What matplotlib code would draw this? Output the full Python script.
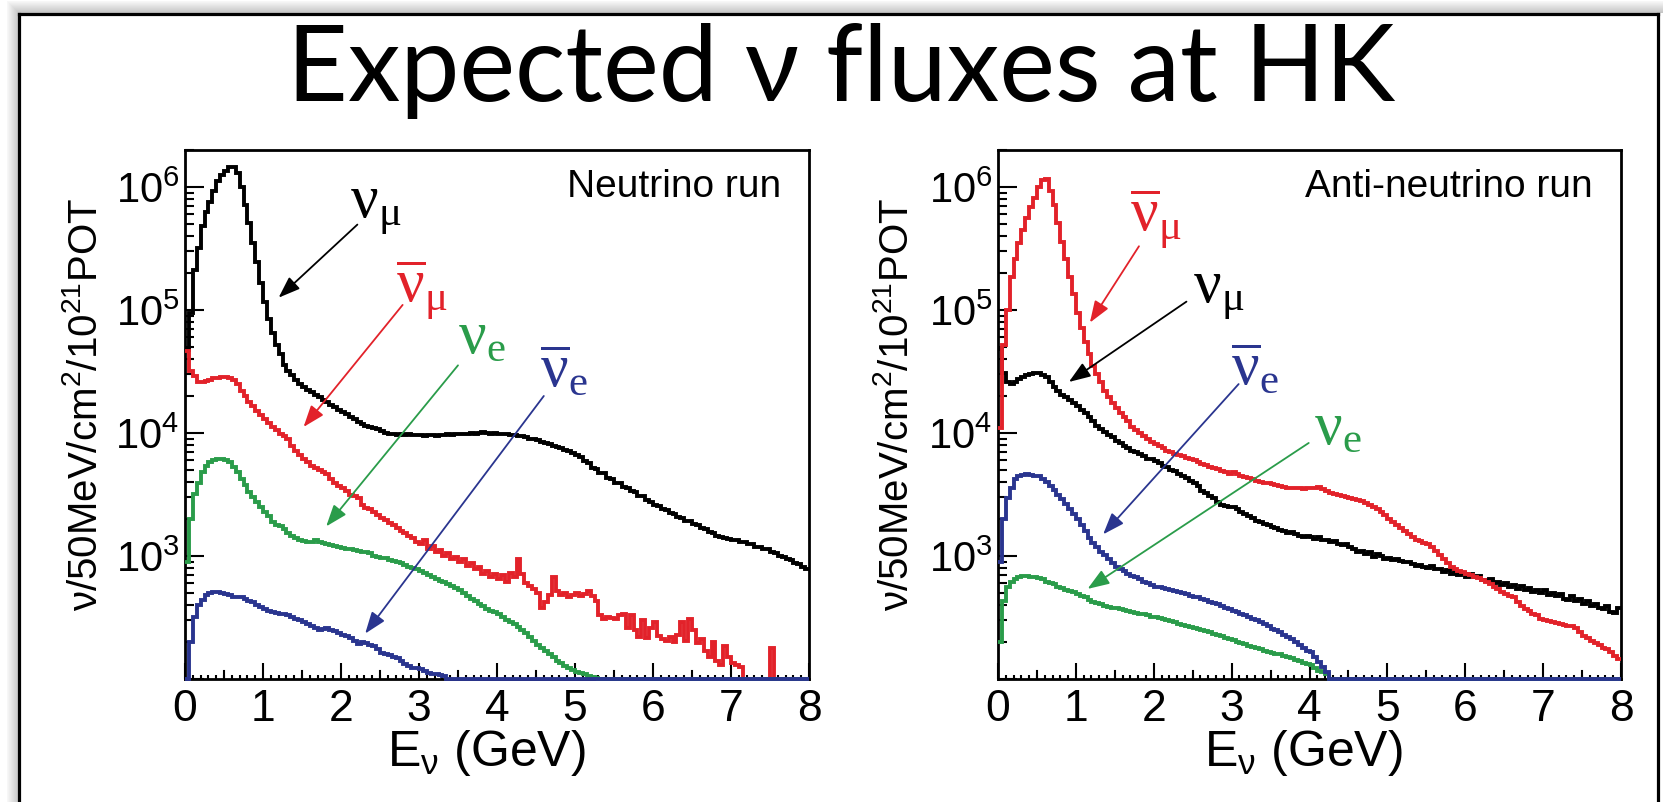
import numpy as np
import matplotlib
matplotlib.use("Agg")
import matplotlib.pyplot as plt
from matplotlib.ticker import (FixedLocator, FixedFormatter, LogLocator,
                               MultipleLocator, NullFormatter)
from matplotlib.lines import Line2D
from matplotlib.patches import Rectangle

plt.rcParams['font.family'] = ['Liberation Sans', 'DejaVu Sans']
plt.rcParams['mathtext.fontset'] = 'custom'
plt.rcParams['mathtext.rm'] = 'Liberation Serif'
plt.rcParams['mathtext.it'] = 'Liberation Serif:italic'
plt.rcParams['mathtext.bf'] = 'Liberation Serif:bold'

# ---------------------------------------------------------------------------
# Flux per 50 MeV bin, 0-8 GeV (160 bins), per cm^2 per 1e21 POT
# ---------------------------------------------------------------------------
E_MIN, E_MAX, BIN_W = 0.0, 8.0, 0.05

# Neutrino (FHC) run
nu_run_numu = [
    4.7e4, 9.5e4, 2.1e5, 3.2e5, 4.8e5, 6.3e5, 7.6e5, 9.3e5, 1.12e6, 1.26e6,
    1.35e6, 1.45e6, 1.45e6, 1.3e6, 1.0e6, 7.1e5, 5.1e5, 3.5e5, 2.45e5, 1.66e5,
    1.17e5, 8.5e4, 6.5e4, 5.2e4, 4.4e4, 3.6e4, 3.2e4, 2.95e4, 2.7e4, 2.5e4,
    2.35e4, 2.25e4, 2.15e4, 2.05e4, 1.95e4, 1.85e4, 1.78e4, 1.7e4, 1.62e4, 1.55e4,
    1.48e4, 1.42e4, 1.35e4, 1.29e4, 1.23e4, 1.18e4, 1.15e4, 1.12e4, 1.1e4, 1.07e4,
    1.03e4, 1.0e4, 9.8e3, 9.8e3, 9.6e3, 9.8e3, 9.7e3, 9.9e3, 9.6e3, 9.7e3,
    9.6e3, 9.5e3, 9.7e3, 9.6e3, 9.5e3, 9.7e3, 9.6e3, 9.8e3, 9.7e3, 9.8e3,
    9.9e3, 9.8e3, 9.9e3, 1.0e4, 9.9e3, 1.0e4, 1.01e4, 1.0e4, 9.9e3, 1.0e4,
    9.9e3, 9.8e3, 9.9e3, 9.7e3, 9.6e3, 9.5e3, 9.4e3, 9.2e3, 9.0e3, 8.9e3,
    8.7e3, 8.5e3, 8.3e3, 8.1e3, 7.9e3, 7.7e3, 7.5e3, 7.3e3, 7.1e3, 6.9e3,
    6.6e3, 6.4e3, 5.9e3, 5.7e3, 5.2e3, 5.1e3, 4.7e3, 4.7e3, 4.3e3, 4.25e3,
    3.95e3, 3.9e3, 3.65e3, 3.55e3, 3.35e3, 3.3e3, 3.1e3, 3.05e3, 2.85e3, 2.75e3,
    2.6e3, 2.55e3, 2.4e3, 2.38e3, 2.22e3, 2.2e3, 2.08e3, 2.05e3, 1.94e3, 1.92e3,
    1.81e3, 1.78e3, 1.68e3, 1.67e3, 1.58e3, 1.54e3, 1.46e3, 1.44e3, 1.39e3, 1.38e3,
    1.35e3, 1.34e3, 1.31e3, 1.31e3, 1.26e3, 1.25e3, 1.19e3, 1.19e3, 1.15e3, 1.13e3,
    1.07e3, 1.06e3, 1.0e3, 990, 940, 930, 870, 860, 820, 790,
]
nu_run_numubar = [
    4.6e4, 3.2e4, 2.9e4, 2.6e4, 2.6e4, 2.65e4, 2.7e4, 2.8e4, 2.8e4, 2.85e4,
    2.85e4, 2.8e4, 2.7e4, 2.5e4, 2.2e4, 2.0e4, 1.8e4, 1.65e4, 1.5e4, 1.4e4,
    1.3e4, 1.2e4, 1.12e4, 1.05e4, 9.8e3, 9.4e3, 8.9e3, 7.8e3, 7.1e3, 6.6e3,
    6.2e3, 5.8e3, 5.4e3, 5.2e3, 5.0e3, 4.8e3, 4.6e3, 4.2e3, 3.9e3, 3.7e3,
    3.55e3, 3.35e3, 3.15e3, 3.1e3, 2.95e3, 2.6e3, 2.45e3, 2.4e3, 2.3e3, 2.15e3,
    2.05e3, 1.95e3, 1.85e3, 1.8e3, 1.7e3, 1.6e3, 1.55e3, 1.45e3, 1.4e3, 1.3e3,
    1.25e3, 1.35e3, 1.15e3, 1.2e3, 1.08e3, 1.12e3, 1.0e3, 1.05e3, 950, 990,
    900, 940, 830, 880, 790, 820, 720, 760, 680, 720,
    650, 700, 620, 730, 670, 950, 720, 600, 570, 540,
    500, 380, 420, 480, 680, 520, 480, 500, 460, 480,
    500, 470, 490, 520, 470, 430, 330, 310, 320, 315,
    310, 330, 340, 260, 330, 250, 220, 300, 215, 260,
    290, 225, 210, 205, 220, 200, 230, 290, 205, 310,
    250, 195, 210, 170, 150, 200, 140, 130, 185, 150,
    135, 130, 125, 0, 0, 0, 0, 0, 0, 0,
    180, 0, 0, 0, 0, 0, 0, 0, 0, 0,
]
nu_run_nue = [
    900, 2.0e3, 3.2e3, 3.9e3, 4.8e3, 5.4e3, 5.8e3, 6.0e3, 6.1e3, 6.1e3,
    6.0e3, 5.8e3, 5.3e3, 4.8e3, 4.2e3, 3.8e3, 3.3e3, 3.0e3, 2.75e3, 2.5e3,
    2.3e3, 2.1e3, 1.9e3, 1.8e3, 1.75e3, 1.65e3, 1.55e3, 1.45e3, 1.4e3, 1.35e3,
    1.32e3, 1.3e3, 1.3e3, 1.35e3, 1.3e3, 1.27e3, 1.25e3, 1.22e3, 1.2e3, 1.18e3,
    1.17e3, 1.15e3, 1.13e3, 1.12e3, 1.1e3, 1.08e3, 1.07e3, 1.05e3, 1.0e3, 990,
    970, 960, 930, 910, 890, 870, 840, 820, 800, 780,
    760, 730, 700, 680, 650, 630, 610, 590, 570, 550,
    530, 500, 470, 450, 430, 410, 390, 370, 360, 350,
    340, 320, 300, 290, 280, 265, 250, 235, 220, 205,
    190, 180, 170, 160, 150, 140, 135, 128, 122, 118,
    115, 112, 110, 106, 104, 102, 0, 0, 0, 0,
] + [0] * 50
nu_run_nuebar = [
    0, 200, 320, 400, 440, 480, 500, 510, 510, 500,
    495, 480, 460, 465, 460, 450, 430, 420, 400, 385,
    370, 360, 350, 345, 340, 335, 330, 320, 310, 300,
    290, 280, 270, 260, 250, 255, 260, 250, 245, 238,
    230, 222, 215, 205, 192, 200, 198, 190, 185, 175,
    162, 160, 158, 152, 147, 140, 133, 128, 124, 122,
    120, 116, 112, 110, 109, 107, 105, 0, 0, 0,
] + [0] * 90

# Anti-neutrino (RHC) run
anu_run_numubar = [
    1.1e4, 5.2e4, 1.0e5, 1.85e5, 2.6e5, 3.5e5, 4.5e5, 5.6e5, 6.9e5, 8.1e5,
    1.0e6, 1.15e6, 1.17e6, 9.3e5, 7.1e5, 5.1e5, 3.6e5, 2.6e5, 1.85e5, 1.35e5,
    9.5e4, 7.1e4, 5.5e4, 4.4e4, 3.5e4, 3.0e4, 2.6e4, 2.2e4, 1.95e4, 1.75e4,
    1.6e4, 1.45e4, 1.35e4, 1.25e4, 1.12e4, 1.05e4, 1.0e4, 9.5e3, 8.9e3, 8.5e3,
    8.1e3, 7.8e3, 7.5e3, 7.2e3, 7.0e3, 6.8e3, 6.6e3, 6.5e3, 6.3e3, 6.1e3,
    6.0e3, 5.8e3, 5.6e3, 5.5e3, 5.3e3, 5.2e3, 5.1e3, 4.9e3, 4.8e3, 4.6e3,
    4.8e3, 4.6e3, 4.5e3, 4.4e3, 4.3e3, 4.2e3, 4.1e3, 4.0e3, 3.95e3, 3.9e3,
    3.85e3, 3.8e3, 3.7e3, 3.65e3, 3.6e3, 3.6e3, 3.55e3, 3.55e3, 3.5e3, 3.55e3,
    3.6e3, 3.6e3, 3.65e3, 3.5e3, 3.35e3, 3.25e3, 3.2e3, 3.15e3, 3.05e3, 3.0e3,
    2.95e3, 2.9e3, 2.85e3, 2.8e3, 2.7e3, 2.6e3, 2.5e3, 2.4e3, 2.3e3, 2.15e3,
    2.0e3, 1.9e3, 1.8e3, 1.7e3, 1.6e3, 1.5e3, 1.42e3, 1.36e3, 1.32e3, 1.28e3,
    1.25e3, 1.18e3, 1.1e3, 1.02e3, 950, 870, 810, 780, 760, 740,
    720, 700, 680, 660, 640, 610, 590, 560, 540, 510,
    490, 470, 460, 420, 390, 370, 360, 340, 330, 310,
    300, 295, 290, 285, 280, 275, 270, 270, 260, 240,
    225, 215, 205, 195, 190, 180, 175, 165, 155, 145,
]
anu_run_numu = [
    4.8e4, 3.1e4, 2.6e4, 2.5e4, 2.6e4, 2.75e4, 2.85e4, 2.95e4, 3.0e4, 3.05e4,
    3.05e4, 2.95e4, 2.85e4, 2.6e4, 2.35e4, 2.2e4, 2.05e4, 1.95e4, 1.85e4, 1.75e4,
    1.65e4, 1.55e4, 1.45e4, 1.35e4, 1.25e4, 1.15e4, 1.08e4, 1.02e4, 9.7e3, 9.2e3,
    8.6e3, 8.3e3, 7.9e3, 7.5e3, 7.2e3, 7.0e3, 6.7e3, 6.5e3, 6.2e3, 6.1e3,
    5.9e3, 5.7e3, 5.4e3, 5.3e3, 5.0e3, 4.9e3, 4.6e3, 4.5e3, 4.3e3, 4.1e3,
    3.9e3, 3.7e3, 3.4e3, 3.25e3, 3.1e3, 2.95e3, 2.75e3, 2.6e3, 2.55e3, 2.5e3,
    2.5e3, 2.4e3, 2.3e3, 2.2e3, 2.1e3, 2.05e3, 1.92e3, 1.88e3, 1.82e3, 1.78e3,
    1.72e3, 1.68e3, 1.63e3, 1.6e3, 1.55e3, 1.58e3, 1.5e3, 1.46e3, 1.42e3, 1.45e3,
    1.42e3, 1.38e3, 1.42e3, 1.36e3, 1.34e3, 1.3e3, 1.33e3, 1.26e3, 1.22e3, 1.25e3,
    1.18e3, 1.13e3, 1.08e3, 1.1e3, 1.04e3, 1.07e3, 990, 1.04e3, 1.0e3, 950,
    970, 930, 950, 910, 890, 900, 860, 830, 850, 820,
    800, 830, 780, 790, 740, 770, 720, 750, 700, 730,
    680, 710, 670, 690, 640, 630, 650, 600, 620, 580,
    600, 560, 580, 540, 570, 530, 550, 510, 530, 500,
    530, 480, 500, 470, 490, 450, 440, 470, 430, 450,
    410, 430, 390, 410, 380, 370, 390, 350, 345, 375,
]
anu_run_nuebar = [
    900, 2.0e3, 2.95e3, 3.6e3, 4.2e3, 4.5e3, 4.55e3, 4.6e3, 4.55e3, 4.5e3,
    4.45e3, 4.25e3, 4.0e3, 3.7e3, 3.45e3, 3.15e3, 2.9e3, 2.65e3, 2.4e3, 2.2e3,
    2.0e3, 1.8e3, 1.6e3, 1.4e3, 1.28e3, 1.18e3, 1.08e3, 1.02e3, 950, 870,
    810, 780, 760, 720, 690, 670, 650, 620, 600, 580,
    560, 560, 545, 540, 525, 515, 505, 500, 490, 475,
    465, 460, 445, 435, 420, 415, 405, 390, 380, 370,
    360, 350, 340, 330, 320, 310, 300, 290, 280, 270,
    255, 250, 240, 230, 220, 210, 200, 190, 180, 170,
    165, 150, 138, 125, 115, 0, 0, 0, 0, 0,
] + [0] * 70
anu_run_nue = [
    200, 430, 560, 620, 650, 680, 690, 690, 680, 670,
    665, 650, 620, 605, 590, 565, 545, 530, 515, 505,
    490, 475, 460, 440, 425, 415, 405, 395, 385, 380,
    375, 370, 365, 360, 350, 345, 340, 335, 330, 322,
    318, 312, 305, 300, 297, 290, 282, 276, 270, 265,
    260, 256, 252, 246, 240, 234, 228, 222, 216, 211,
    206, 201, 197, 192, 187, 183, 178, 174, 170, 167,
    164, 161, 159, 155, 151, 147, 143, 139, 136, 132,
    129, 123, 117, 113, 110, 0, 0, 0, 0, 0,
] + [0] * 70

Y_MIN, Y_MAX = 100.0, 2.0e6

C_BLACK = '#000000'
C_RED = '#e2222a'
C_GREEN = '#2a9c4a'
C_BLUE = '#2a358f'

LBL_NUMU = r'$\mathrm{ν}_{\mathrm{μ}}$'
LBL_NUMUBAR = r'$\overline{\mathrm{ν}}_{\mathrm{μ}}$'
LBL_NUE = r'$\mathrm{ν}_{\mathrm{e}}$'
LBL_NUEBAR = r'$\overline{\mathrm{ν}}_{\mathrm{e}}$'

edges = np.linspace(E_MIN, E_MAX, int(round((E_MAX - E_MIN) / BIN_W)) + 1)

W, H = 1663, 802
fig = plt.figure(figsize=(W / 100, H / 100), dpi=100)
fig.patch.set_facecolor('white')


def px_x(x):
    return x / W


def px_y(y):
    return 1 - y / H


# slide frame with a soft shadow on the top and left
for i in range(12):
    g = 0.97 - 0.018 * i
    fig.add_artist(Rectangle((px_x(7 + i), 0), px_x(1.05), 1 - (1 + i) / H,
                             transform=fig.transFigure, color=(g, g, g), lw=0))
    fig.add_artist(Rectangle((px_x(7 + i), px_y(1 + i) - 1.05 / H), 1, 1.05 / H,
                             transform=fig.transFigure, color=(g, g, g), lw=0))
frame_kw = dict(transform=fig.transFigure, color='black', lw=2.3,
                solid_capstyle='projecting')
fig.add_artist(Line2D([px_x(19), px_x(19)], [0, px_y(13.5)], **frame_kw))
fig.add_artist(Line2D([px_x(19), px_x(1658)], [px_y(13.5), px_y(13.5)], **frame_kw))
fig.add_artist(Line2D([px_x(1658), px_x(1658)], [0, px_y(13.5)], **frame_kw))

fig.text(px_x(841), px_y(101), 'Expected ν fluxes at HK', fontsize=76,
         family=['Lato', 'DejaVu Sans'], ha='center', va='baseline')

AX_TOP, AX_BOT = 150, 679
panels = [
    dict(x0=185, x1=809, run='Neutrino run',
         series=[(nu_run_numu, C_BLACK), (nu_run_numubar, C_RED),
                 (nu_run_nue, C_GREEN), (nu_run_nuebar, C_BLUE)],
         arrows=[(LBL_NUMU, C_BLACK, (2.45, 6.7e5), (2.21, 4.95e5), (1.20, 1.26e5)),
                 (LBL_NUMUBAR, C_RED, (3.03, 1.45e5), (2.79, 1.1e5), (1.52, 1.12e4)),
                 (LBL_NUE, C_GREEN, (3.80, 6.0e4), (3.50, 3.55e4), (1.81, 1.74e3)),
                 (LBL_NUEBAR, C_BLUE, (4.86, 3.2e4), (4.60, 2.0e4), (2.31, 234))],
         ylabel_x=86, xlabel_x=486),
    dict(x0=998, x1=1621, run='Anti-neutrino run',
         series=[(anu_run_numu, C_BLACK), (anu_run_numubar, C_RED),
                 (anu_run_nue, C_GREEN), (anu_run_nuebar, C_BLUE)],
         arrows=[(LBL_NUMUBAR, C_RED, (2.03, 5.5e5), (1.81, 3.3e5), (1.18, 7.9e4)),
                 (LBL_NUMU, C_BLACK, (2.83, 1.35e5), (2.42, 1.17e5), (0.91, 2.6e4)),
                 (LBL_NUEBAR, C_BLUE, (3.30, 3.3e4), (3.09, 2.5e4), (1.35, 1.5e3)),
                 (LBL_NUE, C_GREEN, (4.36, 1.1e4), (3.99, 8.3e3), (1.15, 540))],
         ylabel_x=896, xlabel_x=1303),
]

for p in panels:
    ax = fig.add_axes([px_x(p['x0']), px_y(AX_BOT), (p['x1'] - p['x0']) / W,
                       (AX_BOT - AX_TOP) / H])
    ax.set_yscale('log')
    ax.set_xlim(E_MIN, E_MAX)
    ax.set_ylim(Y_MIN, Y_MAX)

    for vals, col in p['series']:
        v = np.clip(np.asarray(vals, dtype=float), Y_MIN, None)
        ax.stairs(v, edges, baseline=None, color=col, lw=2.8, clip_on=False,
                  zorder=3)

    for lbl, col, lpos, tail, head in p['arrows']:
        ax.annotate('', xy=head, xytext=tail,
                    arrowprops=dict(arrowstyle='-|>,head_length=0.6,head_width=0.22',
                                    color=col, lw=1.3, shrinkA=0, shrinkB=0,
                                    mutation_scale=22))
        ax.text(lpos[0], lpos[1], lbl, color=col, fontsize=44,
                ha='center', va='center')

    ax.text(0.955, 0.931, p['run'], transform=ax.transAxes, fontsize=28,
            ha='right', va='center')

    # axes styling: ticks inside, left and bottom only
    for s in ax.spines.values():
        s.set_linewidth(2.0)
    ax.yaxis.set_major_locator(FixedLocator([1e2, 1e3, 1e4, 1e5, 1e6]))
    ax.yaxis.set_major_formatter(FixedFormatter(
        ['', r'$\mathregular{10^{3}}$', r'$\mathregular{10^{4}}$',
         r'$\mathregular{10^{5}}$', r'$\mathregular{10^{6}}$']))
    ax.yaxis.set_minor_locator(LogLocator(base=10, subs=np.arange(2, 10), numticks=20))
    ax.yaxis.set_minor_formatter(NullFormatter())
    ax.xaxis.set_major_locator(MultipleLocator(1))
    ax.xaxis.set_minor_locator(MultipleLocator(0.1))
    ax.tick_params(which='both', direction='in', top=False, right=False,
                   width=1.5)
    ax.tick_params(axis='y', which='major', length=13.7, pad=4, labelsize=30)
    ax.tick_params(axis='y', which='minor', length=6.5)
    ax.tick_params(axis='x', which='major', length=11.5, pad=7, labelsize=32)
    ax.tick_params(axis='x', which='minor', length=3)
    for xm in np.arange(0.5, 8.0, 1.0):
        ax.plot([xm, xm], [0, 8 / (AX_BOT - AX_TOP)], color='black', lw=1.5,
                transform=ax.get_xaxis_transform(), clip_on=False, zorder=2.5)

    fig.text(px_x(p['ylabel_x']), px_y(404),
             r'$\mathregular{ν/50MeV/cm^{2}/10^{21}POT}$', rotation=90,
             fontsize=29, ha='center', va='center')
    fig.text(px_x(p['xlabel_x']), px_y(766),
             r'$\mathregular{E_{ν}}$ (GeV)', fontsize=36, ha='center',
             va='baseline')

fig.savefig('out.png', dpi=100, facecolor='white')
